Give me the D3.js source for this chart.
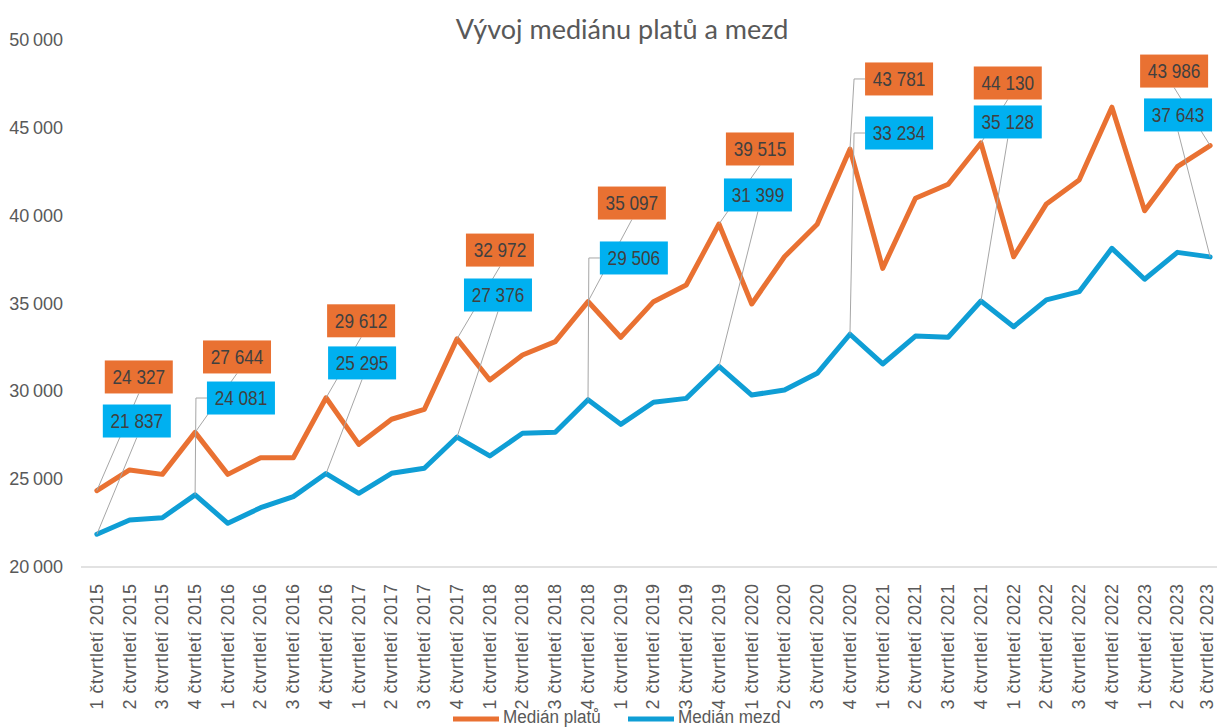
<!DOCTYPE html>
<meta charset="utf-8">
<style>

body {
  margin: 0;
  background: #fff;
}

.tick text {
  fill: #595959;
  font-family: "Liberation Sans", Arial, sans-serif;
}

.narrow {
  font-family: "Liberation Sans", Arial, sans-serif;
}

</style>
<svg></svg>
<script src="https://cdn.jsdelivr.net/npm/d3@7"></script>
<script>

var width = 1217,
    height = 728;

var kategorie = [
  "1 čtvrtletí 2015", "2 čtvrtletí 2015", "3 čtvrtletí 2015", "4 čtvrtletí 2015",
  "1 čtvrtletí 2016", "2 čtvrtletí 2016", "3 čtvrtletí 2016", "4 čtvrtletí 2016",
  "1 čtvrtletí 2017", "2 čtvrtletí 2017", "3 čtvrtletí 2017", "4 čtvrtletí 2017",
  "1 čtvrtletí 2018", "2 čtvrtletí 2018", "3 čtvrtletí 2018", "4 čtvrtletí 2018",
  "1 čtvrtletí 2019", "2 čtvrtletí 2019", "3 čtvrtletí 2019", "4 čtvrtletí 2019",
  "1 čtvrtletí 2020", "2 čtvrtletí 2020", "3 čtvrtletí 2020", "4 čtvrtletí 2020",
  "1 čtvrtletí 2021", "2 čtvrtletí 2021", "3 čtvrtletí 2021", "4 čtvrtletí 2021",
  "1 čtvrtletí 2022", "2 čtvrtletí 2022", "3 čtvrtletí 2022", "4 čtvrtletí 2022",
  "1 čtvrtletí 2023", "2 čtvrtletí 2023", "3 čtvrtletí 2023"
];

// medián platů
var platy = [24327, 25500, 25250, 27644, 25250, 26200, 26200, 29612,
             26960, 28390, 28950, 32972, 30630, 32050, 32810, 35097,
             33060, 35090, 36040, 39515, 34960, 37650, 39500, 43781,
             36990, 40980, 41780, 44130, 37650, 40660, 42020, 46170,
             40270, 42780, 43986];

// medián mezd
var mzdy = [21837, 22650, 22780, 24081, 22460, 23350, 23980, 25295,
            24170, 25310, 25600, 27376, 26300, 27590, 27650, 29506,
            28100, 29360, 29580, 31399, 29770, 30060, 31010, 33234,
            31540, 33130, 33060, 35128, 33660, 35190, 35660, 38130,
            36370, 37900, 37643];

var yTicks = [20000, 25000, 30000, 35000, 40000, 45000, 50000];

// which points carry a data label
var stitky = [0, 3, 7, 11, 15, 19, 23, 27, 34];

// where the dragged labels sit: shift in categories, height in CZK
var posunPlaty = [1.28, 1.28, 1.07, 1.31, 1.34, 1.25, 1.50, 0.82, -1.10];
var vyskaPlaty = [30800, 31940, 34000, 38030, 40710, 43790, 47780, 47550, 48230];
var posunMzdy = [1.22, 1.40, 1.10, 1.25, 1.40, 1.19, 1.50, 0.82, -0.98];
var vyskaMzdy = [28290, 29600, 31600, 35470, 37580, 41170, 44700, 45330, 45730];

var serie = [
  {name: "Medián platů", values: platy, line: "#E97132", box: "#E97132", posun: posunPlaty, vyska: vyskaPlaty},
  {name: "Medián mezd", values: mzdy, line: "#0F9ED5", box: "#00B0F0", posun: posunMzdy, vyska: vyskaMzdy}
];

var loc = d3.formatLocale({decimal: ",", thousands: "\u202f", grouping: [3], currency: ["", ""]});
var fmtTick = loc.format(",d");
var loc2 = d3.formatLocale({decimal: ",", thousands: "\u00a0", grouping: [3], currency: ["", ""]});
var fmtLabel = loc2.format(",d");

var svg = d3.select("svg")
    .attr("width", width)
    .attr("height", height);

var x = d3.scalePoint()
    .domain(kategorie)
    .range([80.5, 1226.5])
    .padding(0.5);

var y = d3.scaleLinear()
    .domain([20000, 50000])
    .range([566.5, 40]);

// title
svg.append("text")
    .attr("x", 622)
    .attr("y", 39)
    .attr("text-anchor", "middle")
    .style("font-family", "Lato, sans-serif")
    .style("font-size", "27px")
    .style("fill", "#595959")
    .text("Vývoj mediánu platů a mezd");

// y axis
var yAxis = svg.append("g")
    .attr("transform", "translate(63,0)")
    .call(d3.axisLeft(y).tickValues(yTicks).tickSize(0).tickPadding(0).tickFormat(fmtTick));
yAxis.select(".domain").remove();
yAxis.selectAll("text").style("font-size", "18px");

// x axis
var xAxis = svg.append("g")
    .attr("transform", "translate(0," + y(20000) + ")")
    .call(d3.axisBottom(x).tickSize(0));
xAxis.select(".domain").attr("stroke", "#d9d9d9").attr("stroke-width", 1.3);
xAxis.selectAll("text")
    .attr("transform", "rotate(-90)")
    .attr("text-anchor", "end")
    .attr("x", -17)
    .attr("y", function(d, i) { return i === kategorie.length - 1 ? -3 : 0; })
    .attr("dy", "0.3em")
    .style("font-size", "18px")
    .style("letter-spacing", "0.5px");

var line = d3.line()
    .x(function(d, i) { return x(kategorie[i]); })
    .y(function(d) { return y(d); });

var lines = svg.append("g");
var leaders = svg.append("g");
var labels = svg.append("g");

serie.forEach(function(s) {
  lines.append("path")
      .datum(s.values)
      .attr("d", line)
      .attr("fill", "none")
      .attr("stroke", s.line)
      .attr("stroke-width", 5)
      .attr("stroke-linejoin", "round")
      .attr("stroke-linecap", "round");
});

var bw = 68, bh = 33;

serie.forEach(function(s) {
  stitky.forEach(function(idx, j) {
    var step = x.step();
    var px = x(kategorie[idx]), py = y(s.values[idx]);
    var cx = px + s.posun[j] * step, cy = y(s.vyska[j]);
    var left = cx - bw / 2;

    var pts;
    if (px < left - 11) {
      pts = [[left, cy], [left - 11, cy], [px, py]];
    } else {
      pts = [[cx, cy + bh / 2], [px, py]];
    }
    leaders.append("path")
        .attr("d", d3.line()(pts))
        .attr("fill", "none")
        .attr("stroke", "#a6a6a6")
        .attr("stroke-width", 1);

    labels.append("rect")
        .attr("x", left)
        .attr("y", cy - bh / 2)
        .attr("width", bw)
        .attr("height", bh)
        .attr("fill", s.box);

    // condensed look: squeeze the text horizontally
    labels.append("text")
        .attr("class", "narrow")
        .attr("transform", "translate(" + cx + "," + cy + ") scale(0.86,1)")
        .attr("dy", "0.36em")
        .attr("text-anchor", "middle")
        .style("font-size", "20px")
        .style("fill", "#404040")
        .text(fmtLabel(s.values[idx]));
  });
});

// legend
var legend = svg.append("g");
var legendX = [453, 628];
serie.forEach(function(s, i) {
  legend.append("line")
      .attr("x1", legendX[i])
      .attr("x2", legendX[i] + 46)
      .attr("y1", 719)
      .attr("y2", 719)
      .attr("stroke", s.line)
      .attr("stroke-width", 5);
  legend.append("text")
      .attr("class", "narrow")
      .attr("transform", "translate(" + (legendX[i] + 50) + ",723) scale(0.9,1)")
      .style("font-size", "19px")
      .style("fill", "#595959")
      .text(s.name);
});

</script>
